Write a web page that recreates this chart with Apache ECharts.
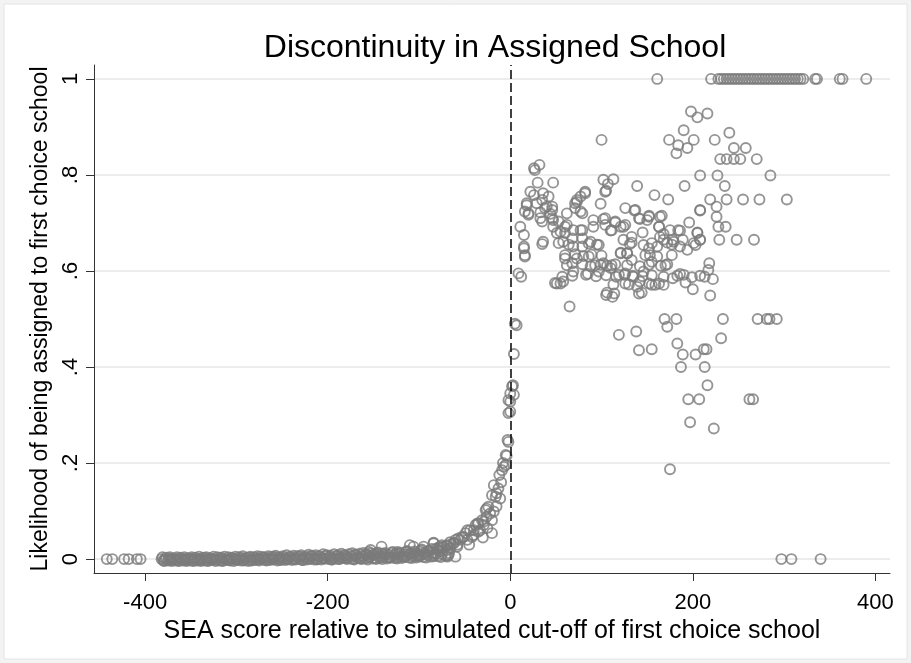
<!DOCTYPE html>
<html>
<head>
<meta charset="utf-8">
<script src="https://cdn.jsdelivr.net/npm/echarts@6/dist/echarts.min.js"></script>
<style>
  html, body { margin: 0; padding: 0; background: #fff; }
  #chart { width: 911px; height: 663px; }
</style>
</head>
<body>
<div id="chart"></div>
<script>
// tick positions and labels
const xTicks = [-400, -200, 0, 200, 400];
const yTicks = [0, 0.2, 0.4, 0.6, 0.8, 1];
const yTickLabels = ['0', '.2', '.4', '.6', '.8', '1'];

// students below the cut-off: [score relative to cut-off, share assigned]
const belowCutoff = [
  [-442, 0], [-436, 0], [-423, 0], [-418, 0], [-409, 0], [-405, 0],
  [-382, 0], [-378, 0], [-374, 0.001], [-370, 0], [-366, 0], [-362, 0.001], [-358, 0], [-354, 0],
  [-350, 0.001], [-346, 0], [-342, 0.001], [-338, 0], [-334, 0.002], [-330, 0], [-326, 0.001],
  [-322, 0], [-318, 0.002], [-314, 0.001], [-310, 0], [-306, 0.002], [-302, 0.001], [-298, 0],
  [-294, 0.002], [-290, 0.001], [-286, 0.003], [-282, 0], [-278, 0.002], [-274, 0.001],
  [-270, 0.003], [-266, 0.001], [-262, 0.002], [-258, 0.004], [-254, 0.001], [-250, 0.003],
  [-246, 0.002], [-242, 0.004], [-238, 0.001], [-234, 0.003], [-230, 0.005], [-226, 0.002],
  [-222, 0.004], [-218, 0.006], [-214, 0.002], [-210, 0.005], [-206, 0.003], [-202, 0.007],
  [-198, 0.004], [-194, 0.002], [-190, 0.006], [-186, 0.004], [-182, 0.008], [-178, 0.003],
  [-174, 0.006], [-170, 0.009], [-166, 0.004], [-162, 0.007], [-158, 0.010], [-154, 0.005],
  [-150, 0.008], [-146, 0.012], [-142, 0.006], [-138, 0.010], [-134, 0.004], [-130, 0.013],
  [-126, 0.008], [-122, 0.011], [-118, 0.006], [-114, 0.015], [-110, 0.010], [-106, 0.013],
  [-102, 0.007], [-98, 0.018], [-94, 0.011], [-90, 0.016], [-86, 0.021], [-82, 0.012],
  [-78, 0.024], [-74, 0.018], [-70, 0.028], [-66, 0.022], [-62, 0.034], [-58, 0.030], [-55, 0.040],
  [-380, -0.003], [-372, -0.002], [-364, -0.003], [-356, -0.002], [-348, -0.003], [-340, -0.002],
  [-332, -0.003], [-324, -0.001], [-316, -0.003], [-308, -0.002], [-300, -0.001], [-292, -0.003],
  [-284, -0.002], [-276, -0.001], [-268, -0.002], [-260, 0], [-252, -0.002], [-244, -0.001],
  [-236, 0], [-228, -0.002], [-220, 0], [-212, -0.001], [-204, 0.001], [-196, -0.001], [-188, 0],
  [-180, 0.002], [-172, 0], [-164, 0.001], [-156, -0.001], [-148, 0.002], [-140, 0], [-132, 0.003],
  [-124, 0.001], [-116, 0.004], [-108, 0.002], [-100, 0.005], [-92, 0.003], [-84, 0.006],
  [-76, 0.004], [-68, 0.008], [-60, 0.005],
  [-381, 0.004], [-377, 0.003], [-373, 0.004], [-369, 0.002], [-365, 0.004], [-361, 0.003],
  [-357, 0.004], [-353, 0.002], [-349, 0.004], [-345, 0.003], [-341, 0.005], [-337, 0.003],
  [-333, 0.004], [-329, 0.002], [-325, 0.005], [-321, 0.004], [-317, 0.003], [-313, 0.005],
  [-309, 0.004], [-305, 0.003], [-301, 0.005], [-297, 0.004], [-293, 0.006], [-289, 0.003],
  [-285, 0.005], [-281, 0.004], [-277, 0.006], [-273, 0.005], [-269, 0.004], [-265, 0.006],
  [-261, 0.005], [-257, 0.007], [-253, 0.004], [-249, 0.006], [-245, 0.008], [-241, 0.005],
  [-237, 0.007], [-233, 0.006], [-229, 0.008], [-225, 0.005], [-221, 0.009], [-217, 0.007],
  [-213, 0.008], [-209, 0.006], [-205, 0.010], [-201, 0.008], [-197, 0.007], [-193, 0.010],
  [-189, 0.008], [-185, 0.011], [-181, 0.007], [-177, 0.010], [-173, 0.012], [-169, 0.008],
  [-165, 0.011], [-161, 0.013], [-157, 0.009], [-153, 0.012], [-149, 0.010], [-145, 0.014],
  [-141, 0.011], [-137, 0.013], [-133, 0.009], [-129, 0.015], [-125, 0.011], [-121, 0.014],
  [-117, 0.010], [-113, 0.017], [-109, 0.012], [-105, 0.016], [-101, 0.011], [-97, 0.020],
  [-93, 0.014], [-89, 0.018], [-85, 0.013], [-81, 0.022], [-77, 0.016], [-73, 0.025],
  [-69, 0.019], [-65, 0.030],
  [-379, -0.004], [-375, -0.003], [-371, -0.004], [-367, -0.003], [-363, -0.004], [-359, -0.003],
  [-355, -0.004], [-351, -0.003], [-347, -0.004], [-343, -0.003], [-339, -0.004], [-335, -0.003],
  [-331, -0.004], [-327, -0.002], [-323, -0.004], [-319, -0.003], [-315, -0.004], [-311, -0.002],
  [-307, -0.003], [-303, -0.004], [-299, -0.002], [-295, -0.003], [-291, -0.002], [-287, -0.004],
  [-283, -0.003], [-279, -0.002], [-275, -0.003], [-271, -0.001], [-267, -0.003], [-263, -0.002],
  [-259, -0.001], [-255, -0.003], [-251, -0.001], [-247, -0.002], [-243, 0], [-239, -0.002],
  [-235, -0.001], [-231, 0], [-227, -0.002], [-223, -0.001], [-219, 0.001], [-215, -0.001],
  [-211, 0], [-207, -0.001], [-203, 0.001], [-199, 0], [-195, -0.001], [-191, 0.001], [-187, 0],
  [-183, 0.002], [-179, 0], [-175, 0.001], [-171, -0.001], [-167, 0.002], [-163, 0], [-159, 0.001],
  [-155, 0.003], [-151, 0.001], [-147, 0], [-143, 0.002], [-139, 0.004], [-135, 0.001],
  [-131, 0.003], [-127, 0.002], [-123, 0.004], [-119, 0.002], [-115, 0.005], [-111, 0.003],
  [-107, 0.006], [-103, 0.003], [-99, 0.007], [-95, 0.004], [-91, 0.008], [-87, 0.005],
  [-83, 0.009], [-79, 0.006], [-75, 0.010], [-71, 0.007], [-67, 0.012],
  [-155, 0.015], [-153, 0.019], [-141, 0.026], [-124, 0.015], [-113, 0.015], [-110, 0.029],
  [-106, 0.026], [-99, 0.015], [-95, 0.026], [-84, 0.033], [-84, 0.034], [-80, 0.019],
  [-77, 0.026], [-75, 0.029], [-69, 0.029], [-69, 0.005], [-66, 0.035], [-62, 0.033],
  [-60, 0.040], [-58, 0.026], [-57, 0.043], [-53, 0.046], [-51, 0.046], [-49, 0.054],
  [-47, 0.040], [-47, 0.060], [-45, 0.030], [-44, 0.060], [-42, 0.046], [-40, 0.050], [-40, 0.060],
  [-38, 0.071], [-36, 0.074], [-35, 0.057], [-35, 0.074], [-33, 0.060], [-31, 0.081],
  [-30, 0.045], [-29, 0.071], [-29, 0.078], [-27, 0.102], [-26, 0.088], [-26, 0.105],
  [-25, 0.065], [-24, 0.109], [-22, 0.095], [-20, 0.054], [-20, 0.081], [-20, 0.133],
  [-18, 0.099], [-18, 0.154], [-16, 0.130], [-15, 0.110], [-15, 0.137], [-13, 0.147],
  [-12, 0.175], [-11, 0.126], [-10, 0.160], [-9, 0.185], [-8, 0.200], [-7, 0.192],
  [-5, 0.196], [-5, 0.217], [-4, 0.215], [-3, 0.248], [-2, 0.244], [-2, 0.304], [-2, 0.331],
  [0, 0.307], [0, 0.328], [0, 0.345]
];

// students above the cut-off
const aboveCutoff = [
  [161, 1], [220, 1], [228, 1], [231, 1], [234, 1], [237, 1], [240, 1], [243, 1], [246, 1],
  [249, 1], [252, 1], [255, 1], [258, 1], [261, 1], [264, 1], [267, 1], [270, 1], [273, 1],
  [276, 1], [279, 1], [282, 1], [285, 1], [288, 1], [291, 1], [294, 1], [297, 1], [300, 1],
  [303, 1], [306, 1], [309, 1], [312, 1], [315, 1], [318, 1], [321, 1], [334, 1], [336, 1],
  [361, 1], [364, 1], [390, 1],
  [297, 0], [308, 0], [340, 0],
  [198, 0.932], [205, 0.920], [216, 0.928], [190, 0.893], [100, 0.873], [174, 0.873],
  [184, 0.862], [201, 0.873], [194, 0.856], [182, 0.845], [224, 0.873], [240, 0.888],
  [245, 0.856], [258, 0.856], [230, 0.833], [237, 0.833], [245, 0.833], [252, 0.833],
  [270, 0.833], [285, 0.799], [208, 0.799], [227, 0.799], [235, 0.777], [191, 0.777],
  [219, 0.749], [237, 0.749], [255, 0.749], [273, 0.749], [303, 0.749], [208, 0.726],
  [226, 0.734], [226, 0.713], [228, 0.692], [236, 0.692], [196, 0.701], [229, 0.665],
  [248, 0.665], [267, 0.665], [205, 0.680], [208, 0.665], [201, 0.658], [139, 0.777],
  [158, 0.758], [173, 0.749], [102, 0.790], [107, 0.781], [113, 0.791], [105, 0.767],
  [99, 0.740], [126, 0.731], [136, 0.726], [142, 0.708], [152, 0.715], [150, 0.706],
  [166, 0.715], [163, 0.692], [175, 0.685], [186, 0.684], [168, 0.677], [164, 0.671],
  [178, 0.665], [189, 0.665], [47, 0.784], [26, 0.814], [32, 0.821], [27, 0.810], [30, 0.784],
  [22, 0.765], [26, 0.758], [36, 0.762], [42, 0.755], [18, 0.737], [29, 0.741], [40, 0.734],
  [46, 0.734], [20, 0.720], [33, 0.722], [44, 0.719], [35, 0.703], [47, 0.706], [62, 0.720],
  [11, 0.692], [15, 0.675], [15, 0.651], [16, 0.633], [73, 0.744], [77, 0.755], [82, 0.765],
  [82, 0.762], [79, 0.720], [71, 0.731], [91, 0.706], [102, 0.708], [115, 0.701], [126, 0.696],
  [91, 0.692], [104, 0.696], [110, 0.684], [121, 0.692], [62, 0.696], [60, 0.679], [51, 0.679],
  [47, 0.692], [77, 0.685], [79, 0.668], [68, 0.668], [58, 0.661], [36, 0.661], [88, 0.661],
  [97, 0.654], [79, 0.651], [69, 0.651], [124, 0.665], [133, 0.671], [145, 0.680], [133, 0.659],
  [121, 0.638], [128, 0.637], [146, 0.654], [152, 0.647], [161, 0.651], [168, 0.665],
  [172, 0.659], [179, 0.661], [186, 0.651], [194, 0.644], [203, 0.654], [208, 0.665],
  [18, 0.741], [16, 0.724], [20, 0.717], [35, 0.748], [38, 0.731], [46, 0.727], [33, 0.710],
  [46, 0.710], [53, 0.703], [71, 0.741], [73, 0.748], [77, 0.724], [104, 0.765], [60, 0.692],
  [55, 0.682], [69, 0.685], [79, 0.685], [104, 0.710], [115, 0.703], [124, 0.692], [111, 0.685],
  [137, 0.727], [141, 0.710], [152, 0.713], [164, 0.713], [208, 0.727], [163, 0.692],
  [184, 0.685], [205, 0.679],
  [35, 0.656], [53, 0.658], [64, 0.655], [86, 0.657], [95, 0.655], [131, 0.656], [155, 0.658],
  [177, 0.655], [15, 0.647], [60, 0.633], [71, 0.635], [80, 0.631], [89, 0.634], [100, 0.632],
  [62, 0.612], [79, 0.614], [88, 0.610], [99, 0.613], [106, 0.611], [115, 0.614], [128, 0.612],
  [142, 0.610], [152, 0.613], [165, 0.611], [172, 0.614], [68, 0.590], [83, 0.592], [94, 0.589],
  [105, 0.591], [116, 0.588], [125, 0.592], [134, 0.590], [145, 0.589], [155, 0.591],
  [168, 0.588], [183, 0.590], [190, 0.592], [199, 0.587], [208, 0.590], [49, 0.575],
  [105, 0.550], [112, 0.546], [126, 0.574], [139, 0.567], [141, 0.553], [152, 0.574], [163, 0.574],
  [16, 0.630], [9, 0.595], [12, 0.588], [51, 0.574], [55, 0.574], [58, 0.578], [57, 0.588],
  [60, 0.626], [68, 0.616], [73, 0.626], [69, 0.599], [65, 0.526], [85, 0.594], [97, 0.599],
  [110, 0.606], [119, 0.592], [126, 0.595], [86, 0.630], [93, 0.612], [102, 0.616], [111, 0.612],
  [121, 0.637], [128, 0.637], [106, 0.555], [114, 0.553], [113, 0.572], [130, 0.572],
  [135, 0.588], [142, 0.578], [146, 0.599], [144, 0.555], [133, 0.623], [148, 0.633],
  [155, 0.619], [153, 0.633], [161, 0.630], [170, 0.612], [177, 0.633], [155, 0.571],
  [159, 0.571], [168, 0.571], [178, 0.585], [186, 0.594], [192, 0.576], [200, 0.562],
  [213, 0.588], [218, 0.616], [222, 0.583], [219, 0.549], [217, 0.602],
  [169, 0.500], [182, 0.500], [172, 0.484], [233, 0.500], [271, 0.500], [281, 0.500],
  [284, 0.500], [292, 0.500], [231, 0.460], [119, 0.467], [138, 0.474], [141, 0.435],
  [155, 0.437], [183, 0.449], [189, 0.426], [203, 0.426], [212, 0.437], [215, 0.437],
  [187, 0.400], [213, 0.400], [216, 0.362], [195, 0.333], [207, 0.333], [262, 0.333],
  [266, 0.333], [197, 0.285], [223, 0.272], [175, 0.187],
  [5, 0.490], [7, 0.487], [4, 0.427], [3, 0.362], [2, 0.360], [4, 0.342]
];

const font = "'Liberation Sans', Arial, sans-serif";
const chart = echarts.init(document.getElementById('chart'));

const markerStyle = {
  color: 'rgba(0,0,0,0)',
  borderColor: '#7b7b7b',
  borderWidth: 1.9
};

chart.setOption({
  backgroundColor: '#f3f3f3',
  animation: false,
  textStyle: { fontFamily: font, color: '#000' },
  graphic: [{
    type: 'rect', z: -10, silent: true,
    shape: { x: 4, y: 4, width: 903, height: 655 },
    style: { fill: '#fff', stroke: '#e4e4e4', lineWidth: 1 }
  }],
  title: {
    text: 'Discontinuity in Assigned School',
    left: 490, top: 26, textAlign: 'center',
    textStyle: { fontFamily: font, fontWeight: 'normal', fontSize: 32, lineHeight: 34, color: '#000' }
  },
  grid: { left: 94, right: 21, top: 65, bottom: 90 },
  xAxis: {
    type: 'value', min: -456, max: 416,
    name: 'SEA score relative to simulated cut-off of first choice school',
    nameLocation: 'middle', nameGap: 40,
    nameTextStyle: { fontFamily: font, fontSize: 25, color: '#000' },
    axisLine: { onZero: false, lineStyle: { color: '#333', width: 1 } },
    axisTick: { show: true, length: 8, customValues: xTicks, lineStyle: { color: '#333' } },
    axisLabel: { fontSize: 22, margin: 19, color: '#000', customValues: xTicks },
    splitLine: { show: false }
  },
  yAxis: {
    type: 'value', min: -0.029, max: 1.029,
    name: 'Likelihood of being assigned to first choice school',
    nameLocation: 'middle', nameGap: 42,
    nameTextStyle: { fontFamily: font, fontSize: 23, color: '#000' },
    axisLine: { show: true, onZero: false, lineStyle: { color: '#333', width: 1 } },
    axisTick: { show: true, length: 8, customValues: yTicks, lineStyle: { color: '#333' } },
    axisLabel: {
      fontSize: 22, margin: 12, rotate: 90, color: '#000', customValues: yTicks,
      formatter: v => yTickLabels[yTicks.findIndex(t => Math.abs(t - v) < 1e-6)] ?? ''
    },
    splitLine: { show: true, lineStyle: { color: '#e6e6e6', width: 1.6 } }
  },
  series: [
    {
      type: 'scatter', symbol: 'circle', symbolSize: 10,
      data: belowCutoff, itemStyle: markerStyle,
      markLine: {
        silent: true, symbol: 'none', z: 10,
        label: { show: false },
        lineStyle: { color: '#111', width: 1.6, type: [9, 4] },
        data: [{ xAxis: 0 }]
      }
    },
    {
      type: 'scatter', symbol: 'circle', symbolSize: 10,
      data: aboveCutoff, itemStyle: markerStyle
    }
  ]
});
</script>
</body>
</html>
